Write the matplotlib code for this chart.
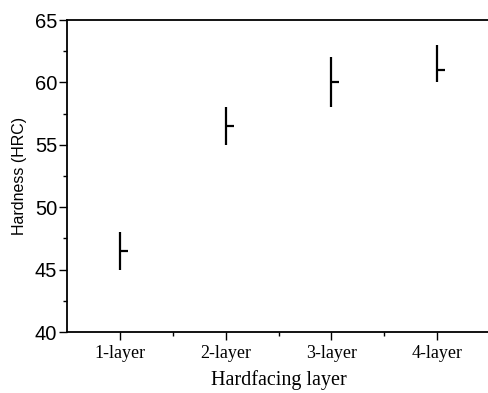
import matplotlib
matplotlib.use("Agg")
import matplotlib.pyplot as plt
from matplotlib.ticker import MultipleLocator, FixedLocator

categories = ["1-layer", "2-layer", "3-layer", "4-layer"]
hard_max = [48.0, 58.0, 62.0, 63.0]
hard_min = [45.0, 55.0, 58.0, 60.0]
hard_mean = [46.5, 56.5, 60.0, 61.0]

fig = plt.figure(figsize=(4.88, 3.93), dpi=100)
ax = fig.add_axes([67/488, 61/393, (490-67)/488, 312/393])

x = list(range(1, len(categories) + 1))
ax.vlines(x, hard_min, hard_max, colors="black", linewidth=1.6)
ax.plot(x, hard_mean, linestyle="none", marker=1, markersize=5.5,
        markeredgewidth=1.6, color="black")

ax.set_xlim(0.5, 4.5)
ax.set_ylim(40, 65)
ax.set_xticks(x)
ax.set_xticklabels(categories, family="Liberation Serif", fontsize=13)
ax.xaxis.set_minor_locator(FixedLocator([1.5, 2.5, 3.5]))
ax.yaxis.set_major_locator(MultipleLocator(5))
ax.yaxis.set_minor_locator(MultipleLocator(2.5))
for lab in ax.get_yticklabels():
    lab.set_family("Liberation Sans")
    lab.set_fontsize(14.5)

ax.tick_params(axis="both", which="major", direction="out", length=6, width=1)
ax.tick_params(axis="both", which="minor", direction="out", length=3, width=1)
ax.tick_params(axis="y", pad=1)
ax.tick_params(axis="x", pad=3)

ax.spines["right"].set_visible(False)
for s in ["left", "top", "bottom"]:
    ax.spines[s].set_linewidth(1.3)

ax.set_ylabel("Hardness (HRC)", family="Liberation Sans", fontsize=11.5, labelpad=6)
ax.set_xlabel("Hardfacing layer", family="Liberation Serif", fontsize=14.5, labelpad=6)

fig.savefig("out.png", dpi=100)
